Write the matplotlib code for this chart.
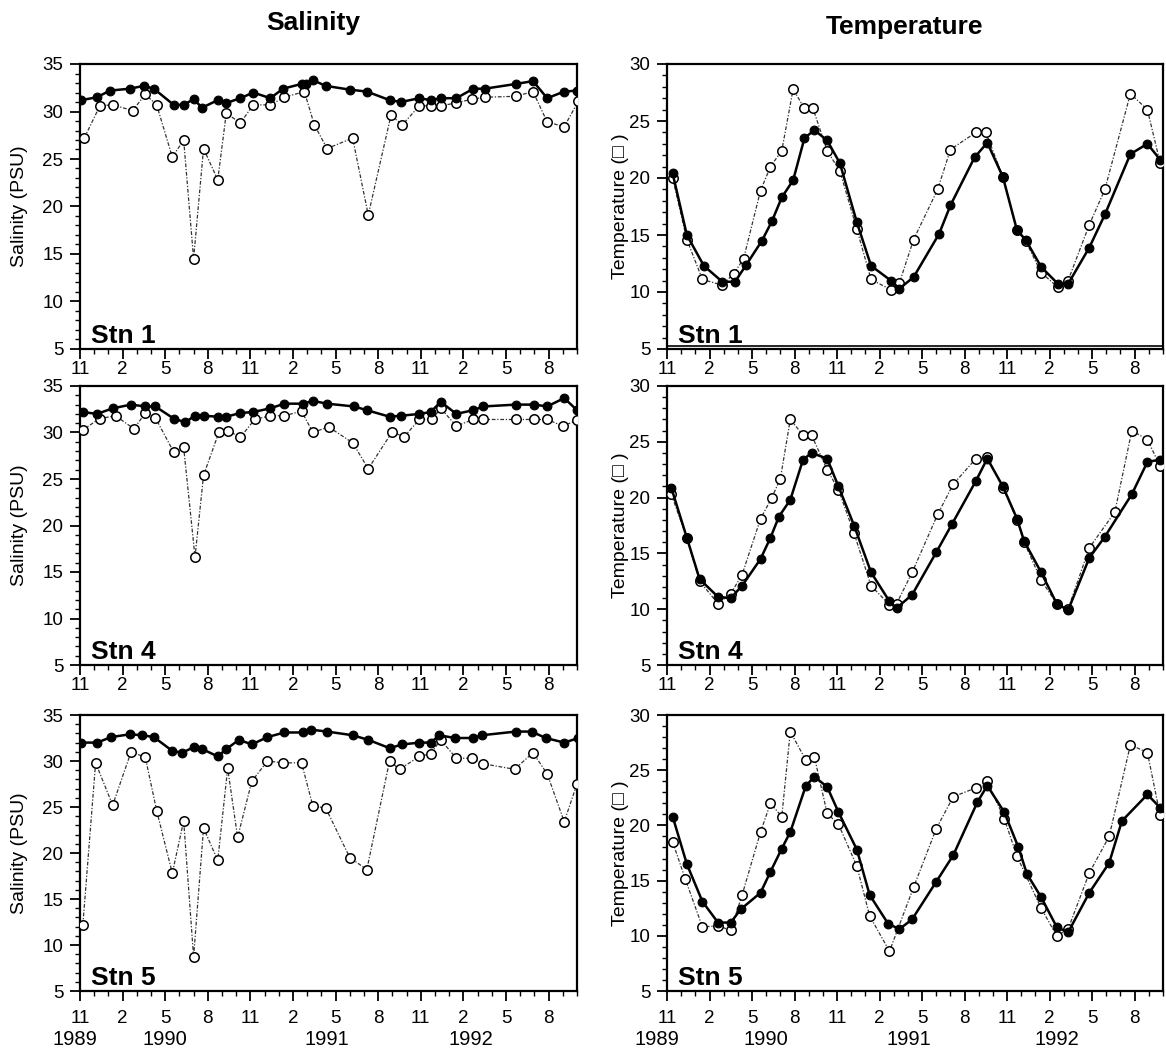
import matplotlib
matplotlib.use('Agg')
import matplotlib.pyplot as plt
from matplotlib.ticker import MultipleLocator, FixedLocator, FixedFormatter
import matplotlib.transforms as mtrans

plt.rcParams['font.family'] = ['Liberation Sans', 'DejaVu Sans']

# ---------------- data (x = months since 1 Nov 1989) ----------------
MONTH_TICKS = [0, 3, 6, 9, 12, 15, 18, 21, 24, 27, 30, 33]
MONTH_TICK_LABELS = ['11', '2', '5', '8', '11', '2', '5', '8', '11', '2', '5', '8']
YEAR_LABELS = ['1989', '1990', '1991', '1992']
YEAR_POS_SAL = [-0.35, 6.0, 17.4, 27.5]
YEAR_POS_TEMP = [-0.7, 7.0, 17.1, 27.5]
STATIONS = ['Stn 1', 'Stn 4', 'Stn 5']

# Station 1 salinity
S1_SAL_FILLED_M = [0.1, 1.2, 2.1, 3.5, 4.5, 5.2, 6.6, 7.3, 8.0, 8.6, 9.7, 10.3, 11.3, 12.2, 13.4, 14.3, 15.6, 15.9,
                   16.4, 17.3, 19.0, 20.2, 21.8, 22.6, 23.9, 24.7, 25.4, 26.5, 27.7, 28.5, 30.7, 31.9, 32.9, 34.1, 35.0]
S1_SAL_FILLED_V = [31.2, 31.5, 32.2, 32.4, 32.7, 32.4, 30.7, 30.7, 31.3, 30.4, 31.2, 30.9, 31.4, 32.0, 31.4, 32.4, 32.9, 32.9,
                   33.3, 32.7, 32.3, 32.1, 31.2, 31.0, 31.4, 31.2, 31.4, 31.4, 32.4, 32.4, 32.9, 33.2, 31.4, 32.1, 32.2]
S1_SAL_OPEN_M = [0.3, 1.4, 2.3, 3.7, 4.6, 5.4, 6.5, 7.3, 8.0, 8.7, 9.7, 10.3, 11.3, 12.2, 13.4, 14.4, 15.8,
                 16.5, 17.4, 19.2, 20.3, 21.9, 22.7, 23.9, 24.7, 25.4, 26.5, 27.6, 28.5, 30.7, 31.9, 32.9, 34.1, 35.1]
S1_SAL_OPEN_V = [27.2, 30.6, 30.7, 30.1, 31.8, 30.7, 25.2, 27.0, 14.5, 26.1, 22.8, 29.8, 28.8, 30.7, 30.7, 31.5, 32.1,
                 28.6, 26.1, 27.2, 19.1, 29.6, 28.6, 30.6, 30.6, 30.6, 30.9, 31.3, 31.5, 31.6, 32.1, 28.9, 28.4, 31.1]

# Station 1 temperature
S1_TMP_FILLED_M = [0.4, 1.4, 2.6, 3.9, 4.8, 5.6, 6.7, 7.4, 8.1, 8.9, 9.7, 10.4, 11.3, 12.2, 13.4, 14.4, 15.8, 16.4,
                   17.4, 19.2, 20.0, 21.7, 22.6, 23.7, 24.7, 25.3, 26.4, 27.6, 28.3, 29.8, 30.9, 32.7, 33.9, 34.8]
S1_TMP_FILLED_V = [20.4, 15.0, 12.3, 10.9, 10.9, 12.4, 14.5, 16.2, 18.3, 19.8, 23.5, 24.2, 23.3, 21.3, 16.1, 12.3, 11.0, 10.3,
                   11.3, 15.1, 17.6, 21.8, 23.1, 20.1, 15.4, 14.6, 12.2, 10.7, 10.7, 13.9, 16.8, 22.1, 23.0, 21.6]
S1_TMP_OPEN_M = [0.4, 1.4, 2.5, 3.9, 4.7, 5.4, 6.6, 7.3, 8.1, 8.9, 9.7, 10.3, 11.3, 12.2, 13.4, 14.4, 15.8, 16.4,
                 17.4, 19.1, 20.0, 21.8, 22.5, 23.7, 24.7, 25.3, 26.4, 27.6, 28.3, 29.8, 30.9, 32.7, 33.9, 34.8]
S1_TMP_OPEN_V = [20.0, 14.6, 11.1, 10.6, 11.6, 12.9, 18.9, 21.0, 22.4, 27.8, 26.1, 26.1, 22.4, 20.6, 15.5, 11.1, 10.2, 10.8,
                 14.6, 19.0, 22.5, 24.0, 24.0, 20.1, 15.4, 14.5, 11.7, 10.4, 11.0, 15.9, 19.0, 27.4, 26.0, 21.3]

# Station 4 salinity
S4_SAL_FILLED_M = [0.2, 1.2, 2.3, 3.6, 4.6, 5.3, 6.6, 7.4, 8.1, 8.7, 9.7, 10.3, 11.3, 12.2, 13.4, 14.4, 15.7,
                   16.4, 17.4, 19.3, 20.2, 21.8, 22.6, 23.9, 24.7, 25.4, 26.5, 27.7, 28.4, 30.7, 32.0, 32.9, 34.1, 35.0]
S4_SAL_FILLED_V = [32.2, 32.0, 32.6, 33.0, 32.8, 32.8, 31.5, 31.1, 31.8, 31.8, 31.7, 31.7, 32.1, 32.2, 32.6, 33.1, 33.1,
                   33.4, 33.1, 32.8, 32.4, 31.7, 31.8, 32.0, 32.2, 33.3, 32.0, 32.4, 32.8, 33.0, 33.0, 32.8, 33.7, 32.4]
S4_SAL_OPEN_M = [0.2, 1.4, 2.5, 3.8, 4.6, 5.3, 6.6, 7.3, 8.1, 8.7, 9.8, 10.4, 11.3, 12.3, 13.4, 14.4, 15.6,
                 16.4, 17.5, 19.2, 20.3, 22.0, 22.8, 23.9, 24.8, 25.4, 26.5, 27.7, 28.4, 30.7, 32.0, 32.9, 34.0, 35.0]
S4_SAL_OPEN_V = [30.3, 31.5, 31.8, 30.4, 32.1, 31.6, 27.9, 28.4, 16.6, 25.4, 30.1, 30.2, 29.5, 31.4, 31.8, 31.8, 32.3,
                 30.0, 30.6, 28.9, 26.1, 30.1, 29.5, 31.4, 31.4, 32.6, 30.7, 31.4, 31.4, 31.4, 31.4, 31.4, 30.7, 31.3]

# Station 4 temperature
S4_TMP_FILLED_M = [0.3, 1.4, 2.3, 3.6, 4.5, 5.3, 6.6, 7.3, 7.9, 8.7, 9.6, 10.2, 11.3, 12.1, 13.2, 14.4, 15.7, 16.2,
                   17.3, 19.0, 20.1, 21.8, 22.6, 23.7, 24.7, 25.2, 26.4, 27.5, 28.3, 29.8, 30.9, 32.8, 33.9, 34.8]
S4_TMP_FILLED_V = [20.9, 16.4, 12.7, 11.1, 11.0, 12.1, 14.5, 16.4, 18.3, 19.8, 23.4, 24.0, 23.5, 21.0, 17.5, 13.3, 10.7, 10.1,
                   11.3, 15.1, 17.6, 21.5, 23.5, 21.0, 18.1, 16.1, 13.3, 10.5, 9.9, 14.6, 16.5, 20.3, 23.2, 23.4]
S4_TMP_OPEN_M = [0.3, 1.4, 2.3, 3.6, 4.5, 5.3, 6.6, 7.4, 8.0, 8.7, 9.6, 10.2, 11.3, 12.1, 13.2, 14.4, 15.7, 16.2,
                 17.3, 19.1, 20.2, 21.8, 22.6, 23.7, 24.7, 25.2, 26.4, 27.5, 28.3, 29.8, 31.6, 32.8, 33.9, 34.8]
S4_TMP_OPEN_V = [20.3, 16.4, 12.5, 10.5, 11.4, 13.1, 18.1, 20.0, 21.7, 27.0, 25.6, 25.6, 22.5, 20.7, 16.8, 12.1, 10.4, 10.5,
                 13.3, 18.5, 21.2, 23.5, 23.6, 20.9, 18.0, 16.0, 12.6, 10.5, 10.0, 15.5, 18.7, 26.0, 25.2, 22.8]

# Station 5 salinity
S5_SAL_FILLED_M = [0.1, 1.2, 2.2, 3.5, 4.4, 5.2, 6.5, 7.2, 8.0, 8.6, 9.7, 10.3, 11.2, 12.1, 13.2, 14.4, 15.7,
                   16.3, 17.4, 19.2, 20.3, 21.8, 22.7, 23.9, 24.7, 25.3, 26.4, 27.7, 28.3, 30.7, 31.8, 32.8, 34.1, 35.1]
S5_SAL_FILLED_V = [32.0, 32.0, 32.6, 32.9, 32.8, 32.6, 31.1, 30.9, 31.5, 31.3, 30.5, 31.3, 32.3, 31.8, 32.6, 33.1, 33.1,
                   33.4, 33.2, 32.8, 32.3, 31.4, 31.8, 32.0, 32.0, 32.8, 32.5, 32.5, 32.8, 33.2, 33.2, 32.5, 32.0, 32.5]
S5_SAL_OPEN_M = [0.2, 1.1, 2.3, 3.6, 4.6, 5.4, 6.5, 7.3, 8.0, 8.7, 9.7, 10.4, 11.1, 12.1, 13.2, 14.3, 15.6,
                 16.4, 17.3, 19.0, 20.2, 21.8, 22.5, 23.9, 24.7, 25.4, 26.5, 27.6, 28.4, 30.6, 31.9, 32.9, 34.1, 35.0]
S5_SAL_OPEN_V = [12.2, 29.8, 25.2, 31.0, 30.4, 24.6, 17.8, 23.5, 8.7, 22.7, 19.2, 29.2, 21.7, 27.8, 30.0, 29.8, 29.8,
                 25.1, 24.9, 19.5, 18.2, 30.0, 29.1, 30.5, 30.8, 32.3, 30.3, 30.3, 29.7, 29.1, 30.9, 28.6, 23.4, 27.5]

# Station 5 temperature
S5_TMP_FILLED_M = [0.4, 1.4, 2.5, 3.6, 4.5, 5.2, 6.6, 7.3, 8.1, 8.7, 9.8, 10.4, 11.3, 12.1, 13.4, 14.3, 15.6, 16.4,
                   17.3, 19.0, 20.2, 21.9, 22.6, 23.8, 24.8, 25.4, 26.4, 27.5, 28.3, 29.8, 31.2, 32.1, 33.9, 34.8]
S5_TMP_FILLED_V = [20.8, 16.5, 13.1, 11.2, 11.2, 12.4, 13.9, 15.8, 17.9, 19.4, 23.6, 24.4, 23.5, 21.2, 17.8, 13.7, 11.1, 10.6,
                   11.5, 14.9, 17.3, 22.1, 23.6, 21.2, 18.0, 15.6, 13.5, 10.8, 10.3, 13.9, 16.6, 20.4, 22.8, 21.6]
S5_TMP_OPEN_M = [0.4, 1.3, 2.5, 3.6, 4.5, 5.3, 6.6, 7.3, 8.1, 8.7, 9.8, 10.4, 11.3, 12.1, 13.4, 14.3, 15.7,
                 17.4, 19.0, 20.2, 21.8, 22.6, 23.8, 24.7, 26.4, 27.5, 28.3, 29.8, 31.2, 32.7, 33.9, 34.8]
S5_TMP_OPEN_V = [18.5, 15.1, 10.8, 10.9, 10.5, 13.7, 19.4, 22.0, 20.8, 28.5, 25.9, 26.2, 21.1, 20.1, 16.3, 11.8, 8.6,
                 14.4, 19.7, 22.6, 23.4, 24.0, 20.6, 17.2, 12.5, 10.0, 10.6, 15.7, 19.0, 27.3, 26.6, 20.9]

SAL_SERIES = [
    (S1_SAL_FILLED_M, S1_SAL_FILLED_V, S1_SAL_OPEN_M, S1_SAL_OPEN_V),
    (S4_SAL_FILLED_M, S4_SAL_FILLED_V, S4_SAL_OPEN_M, S4_SAL_OPEN_V),
    (S5_SAL_FILLED_M, S5_SAL_FILLED_V, S5_SAL_OPEN_M, S5_SAL_OPEN_V),
]
TMP_SERIES = [
    (S1_TMP_FILLED_M, S1_TMP_FILLED_V, S1_TMP_OPEN_M, S1_TMP_OPEN_V),
    (S4_TMP_FILLED_M, S4_TMP_FILLED_V, S4_TMP_OPEN_M, S4_TMP_OPEN_V),
    (S5_TMP_FILLED_M, S5_TMP_FILLED_V, S5_TMP_OPEN_M, S5_TMP_OPEN_V),
]

# ---------------- figure ----------------
W, H = 1166, 1054
fig = plt.figure(figsize=(W / 100, H / 100), dpi=100)

ROWS = [(64, 349), (386, 665), (715, 991)]          # pixel top / bottom
COLS = [(80, 577), (667, 1163)]                      # pixel left / right


def make_ax(col, row):
    l, r = COLS[col]
    t, b = ROWS[row]
    return fig.add_axes([l / W, 1 - b / H, (r - l) / W, (b - t) / H])


def style_ax(ax, ylim, bottom_row):
    ax.set_xlim(0, 35)
    ax.set_ylim(*ylim)
    ax.xaxis.set_major_locator(FixedLocator(MONTH_TICKS))
    ax.xaxis.set_major_formatter(FixedFormatter(MONTH_TICK_LABELS))
    ax.xaxis.set_minor_locator(MultipleLocator(1))
    ax.yaxis.set_major_locator(MultipleLocator(5))
    ax.yaxis.set_minor_locator(MultipleLocator(1))
    ax.tick_params(which='major', direction='out', length=7, width=1.3, labelsize=13.5, color='black')
    ax.tick_params(which='minor', direction='out', length=3.5, width=1.0, color='black')
    ax.tick_params(axis='x', which='major', pad=7 if bottom_row else 1.5)
    ax.tick_params(axis='y', which='major', pad=5)
    for s in ax.spines.values():
        s.set_linewidth(1.6)
        s.set_color('black')


def draw_series(ax, fm, fv, om, ov):
    ax.plot(om, ov, linestyle=(0, (3.0, 1.4, 1.0, 1.4)), color='#333333', lw=0.9,
            marker='o', ms=6.8, mfc='white', mec='black', mew=1.1, zorder=3)
    ax.plot(fm, fv, linestyle='-', color='black', lw=1.8,
            marker='o', ms=6.3, mfc='black', mec='black', mew=0.8, zorder=4)


for row in range(3):
    bottom_row = row == 2
    # salinity
    ax = make_ax(0, row)
    fm, fv, om, ov = SAL_SERIES[row]
    draw_series(ax, fm, fv, om, ov)
    style_ax(ax, (5, 35), bottom_row)
    ax.set_ylabel('Salinity (PSU)', fontsize=14)
    ax.yaxis.set_label_coords(-0.105, 0.5)
    ax.text(0.023, 0.022, STATIONS[row], transform=ax.transAxes, fontsize=19,
            fontweight='bold', ha='left', va='baseline', zorder=5)
    if bottom_row:
        tr = mtrans.offset_copy(ax.get_xaxis_transform(), fig=fig, y=-35, units='points')
        for yl, yp in zip(YEAR_LABELS, YEAR_POS_SAL):
            ax.text(yp, 0, yl, transform=tr, fontsize=14.5, ha='center', va='center')

    # temperature
    ax = make_ax(1, row)
    fm, fv, om, ov = TMP_SERIES[row]
    draw_series(ax, fm, fv, om, ov)
    style_ax(ax, (5, 30), bottom_row)
    ax.set_ylabel('Temperature (\u25a1 )', fontsize=14)
    ax.yaxis.set_label_coords(-0.077, 0.5)
    ax.text(0.023, 0.022, STATIONS[row], transform=ax.transAxes, fontsize=19,
            fontweight='bold', ha='left', va='baseline', zorder=5)
    if row == 0:
        ax.axhline(5.3, color='black', lw=1.2, zorder=2)
    if bottom_row:
        tr = mtrans.offset_copy(ax.get_xaxis_transform(), fig=fig, y=-35, units='points')
        for yl, yp in zip(YEAR_LABELS, YEAR_POS_TEMP):
            ax.text(yp, 0, yl, transform=tr, fontsize=14.5, ha='center', va='center')

fig.text(313 / W, 1 - 23 / H, 'Salinity', fontsize=19, fontweight='bold', ha='center', va='center')
fig.text(905 / W, 1 - 27 / H, 'Temperature', fontsize=19, fontweight='bold', ha='center', va='center')

fig.savefig('out.png', dpi=100)
